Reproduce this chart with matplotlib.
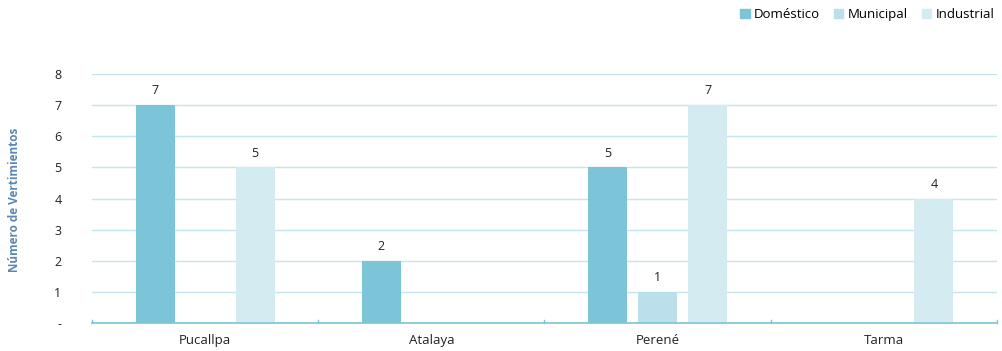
import matplotlib
matplotlib.use('Agg')
import matplotlib.pyplot as plt
from matplotlib.patches import Patch
import numpy as np

categories = ['Pucallpa', 'Atalaya', 'Perené', 'Tarma']
domestico = [7, 2, 5, 0]
municipal = [0, 0, 1, 0]
industrial = [5, 0, 7, 4]
series = [('Doméstico', domestico, '#7cc4d8'),
          ('Municipal', municipal, '#bce0eb'),
          ('Industrial', industrial, '#d4ebf2')]

plt.rcParams['font.family'] = ['Open Sans', 'DejaVu Sans']

fig = plt.figure(figsize=(10.03, 3.51), dpi=100)
ax = fig.add_axes([92/1003, (351-323)/351, (997-92)/1003, (323-74)/351])

x = np.arange(len(categories))
width = 0.173
step = 0.221
for i, (name, vals, color) in enumerate(series):
    pos = x + (i - 1) * step
    for p, v in zip(pos, vals):
        if v > 0:
            ax.bar(p, v, width, color=color, zorder=2)
            ax.text(p, v + 0.25, str(v), ha='center', va='bottom', fontsize=9, color='#222222')

ax.set_xlim(-0.5, 3.5)
ax.set_ylim(0, 8)
ax.set_yticks(range(9))
ax.set_yticklabels(['-'] + [str(i) for i in range(1, 9)], fontsize=9, color='#222222')
ax.yaxis.grid(True, color='#c6e4ee', linewidth=1, zorder=0)
ax.tick_params(axis='y', length=0, pad=22)
ax.set_xticks(x)
ax.set_xticklabels(categories, fontsize=9.5, color='#222222')
ax.tick_params(axis='x', length=0, pad=8)
for b in [-0.5, 0.5, 1.5, 2.5, 3.5]:
    ax.plot([b, b], [0, 0.1], color='#7cc4d8', linewidth=1, zorder=3, clip_on=False)
for s in ['top', 'right', 'left']:
    ax.spines[s].set_visible(False)
ax.spines['bottom'].set_color('#7cc4d8')
ax.spines['bottom'].set_linewidth(1.2)
ax.spines['bottom'].set_zorder(3)

fig.text(15/1003, 1 - 200/351, 'Número de Vertimientos', rotation=90, ha='center', va='center',
         fontsize=8.5, fontweight='bold', color='#5b87b3')

handles = [Patch(color=c) for _, _, c in series]
fig.legend(handles, [n for n, _, _ in series], loc='upper right', bbox_to_anchor=(1.003, 1.01),
           ncol=3, frameon=False, fontsize=9.5, handlelength=0.7, handleheight=0.7,
           handletextpad=0.3, columnspacing=1.1)

fig.savefig('out.png', dpi=100)
